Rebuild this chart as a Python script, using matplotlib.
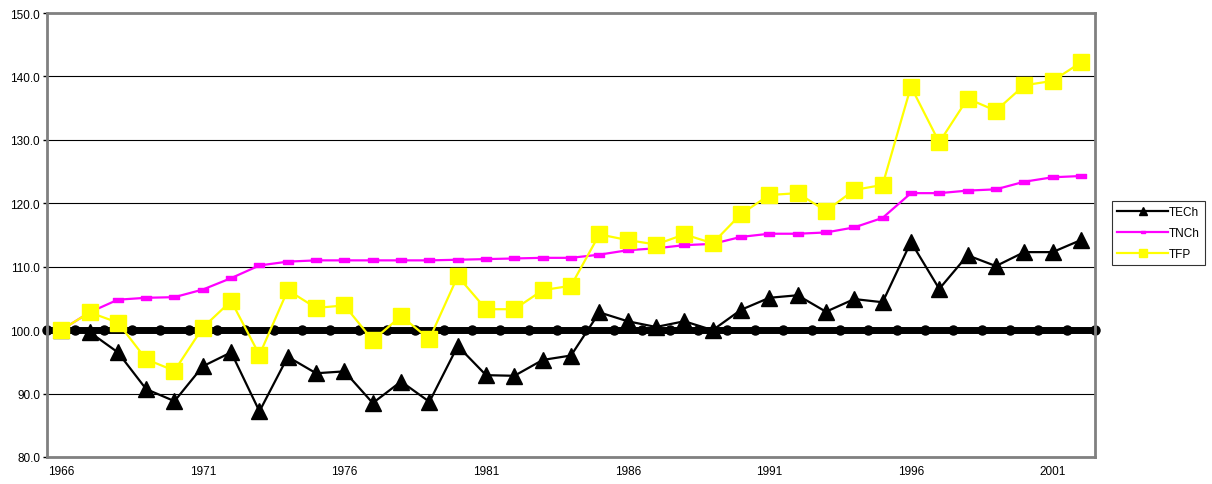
import numpy as np
import matplotlib
matplotlib.use("Agg")
import matplotlib.pyplot as plt

plt.rcParams['font.family'] = ['Liberation Sans', 'DejaVu Sans']

years = list(range(1966, 2003))

tech = [100.0, 99.7, 96.5, 90.7, 88.8, 94.3, 96.5, 87.2, 95.8, 93.2,
        93.5, 88.5, 91.9, 88.7, 97.5, 92.9, 92.8, 95.3, 96.0, 102.8,
        101.4, 100.5, 101.4, 100.0, 103.2, 105.1, 105.5, 102.9, 104.9, 104.4,
        113.9, 106.5, 111.8, 110.1, 112.3, 112.3, 114.2]

tnch = [100.0, 102.8, 104.8, 105.1, 105.2, 106.4, 108.2, 110.2, 110.8, 111.0,
        111.0, 111.0, 111.0, 111.0, 111.1, 111.2, 111.3, 111.4, 111.4, 111.9,
        112.6, 112.9, 113.4, 113.6, 114.7, 115.2, 115.2, 115.4, 116.2, 117.7,
        121.6, 121.6, 122.0, 122.2, 123.4, 124.1, 124.3]

tfp = [100.0, 102.8, 101.2, 95.4, 93.6, 100.4, 104.6, 96.1, 106.3, 103.5,
       103.9, 98.4, 102.2, 98.6, 108.5, 103.3, 103.3, 106.3, 107.0, 115.1,
       114.2, 113.5, 115.1, 113.7, 118.3, 121.3, 121.6, 118.8, 122.1, 122.9,
       138.4, 129.6, 136.5, 134.6, 138.6, 139.3, 142.2]

# baseline series sits on the category boundaries
base_x = np.arange(1965.5, 2003.0, 1.0)
base_y = [100.0] * len(base_x)

fig = plt.figure(figsize=(12.12, 4.85), dpi=100)
ax = fig.add_axes([0.0388, 0.0557, 0.8647, 0.9154])

ax.set_xlim(1965.5, 2002.5)
ax.set_ylim(80, 150)
ax.set_yticks(np.arange(80, 151, 10))
ax.set_yticklabels(["%.1f" % v for v in np.arange(80, 151, 10)])
ax.set_xticks(years[::5])
ax.set_xticklabels([str(y) for y in years[::5]])
ax.tick_params(axis='both', labelsize=8.5, colors='black', length=3, width=1)
ax.tick_params(axis='x', length=0, pad=6)
ax.tick_params(axis='y', pad=2)

ax.grid(axis='y', color='black', linewidth=0.8)
ax.set_axisbelow(True)
for s in ax.spines.values():
    s.set_color('#808080')
    s.set_linewidth(2)

ax.plot(base_x, base_y, color='black', linewidth=5, marker='o',
        markersize=6.5, clip_on=False, zorder=2)

bar = [(-1, -0.45), (1, -0.45), (1, 0.45), (-1, 0.45), (-1, -0.45)]
l1, = ax.plot(years, tech, color='black', linewidth=1.6, marker='^',
              markersize=11, zorder=3, label='TECh')
l2, = ax.plot(years, tnch, color='#ff00ff', linewidth=1.6, marker=bar,
              markersize=7, zorder=3, label='TNCh')
l3, = ax.plot(years, tfp, color='#ffff00', linewidth=1.6, marker='s',
              markersize=11, zorder=4, label='TFP')

leg = fig.legend(handles=[l1, l2, l3], loc='upper left',
                 bbox_to_anchor=(1112 / 1212, 1 - 202 / 485),
                 fontsize=8.5, frameon=True, fancybox=False, edgecolor='black',
                 markerscale=0.5, handlelength=4.3, handletextpad=0.1,
                 borderpad=0.45, labelspacing=0.75, borderaxespad=0)
leg.get_frame().set_linewidth(0.8)

plt.savefig('out.png', dpi=100)
